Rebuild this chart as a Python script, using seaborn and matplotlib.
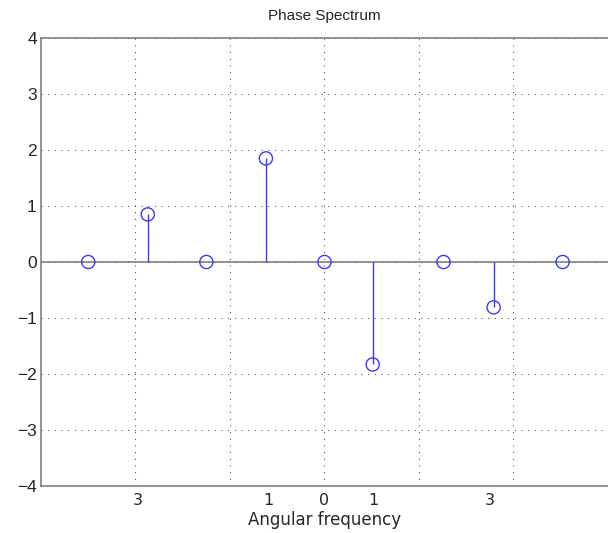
import numpy as np
import pandas as pd
import seaborn as sns
import matplotlib.pyplot as plt
from matplotlib.ticker import FixedLocator, FixedFormatter

# data
omega = [-2.5, -1.87, -1.25, -0.62, 0.0, 0.51, 1.26, 1.79, 2.52]
phase = [0.0, 0.85, 0.0, 1.85, 0.0, -1.83, 0.0, -0.81, 0.0]
grid_ticks = [-2, -1, 0, 1, 2]
label_pos = [-1.98, -0.59, 0.0, 0.52, 1.75]
label_txt = ["3", "1", "0", "1", "3"]
y_ticks = [-4, -3, -2, -1, 0, 1, 2, 3, 4]

df = pd.DataFrame({"omega": omega, "phase": phase})

sns.set_style("white")
plt.rcParams['font.family'] = ['Liberation Sans', 'DejaVu Sans']

fig = plt.figure(figsize=(6.08, 5.33), dpi=100)
ax = fig.add_axes([0.0674, 0.0882, 0.9326, 0.8405])

# baseline and stems
ax.axhline(0, color="#808080", lw=1.2, zorder=1)
ax.vlines(df["omega"], 0, df["phase"], color="#3a3aff", lw=1, zorder=2)
sns.scatterplot(data=df, x="omega", y="phase", ax=ax, marker="o", s=90,
                facecolor="none", edgecolor="#3a3aff", linewidth=1, zorder=3)

ax.set_xlim(-3, 3)
ax.set_ylim(-4, 4)
ax.set_yticks(y_ticks)
ax.set_yticklabels([str(v) if v >= 0 else "\u2212" + str(-v) for v in y_ticks])

# gridline ticks are unlabelled, labels sit on minor ticks
ax.xaxis.remove_overlapping_locs = False
ax.xaxis.set_major_locator(FixedLocator(grid_ticks))
ax.xaxis.set_major_formatter(FixedFormatter([""] * len(grid_ticks)))
ax.xaxis.set_minor_locator(FixedLocator(label_pos))
ax.xaxis.set_minor_formatter(FixedFormatter(label_txt))
ax.tick_params(axis="x", which="minor", length=0, pad=5, labelsize=11.5)
ax.tick_params(axis="x", which="major", direction="in", length=5, color="#808080")
ax.tick_params(axis="y", direction="in", length=5, color="#808080", labelsize=12.5, pad=3)
for lab in ax.get_xticklabels(minor=True):
    lab.set_family("DejaVu Sans")

ax.grid(True, which="major", color="#555555", linestyle=(0, (1, 5)), lw=0.8)

for s in ["left", "bottom", "top"]:
    ax.spines[s].set_color("#808080")
    ax.spines[s].set_linewidth(1.2)
ax.spines["right"].set_visible(False)

ax.set_xlabel("Angular frequency", fontsize=12, family="DejaVu Sans", labelpad=2)
ax.set_ylabel("")
ax.set_title("Phase Spectrum", fontsize=11, pad=13)

fig.savefig("out.png", dpi=100)
